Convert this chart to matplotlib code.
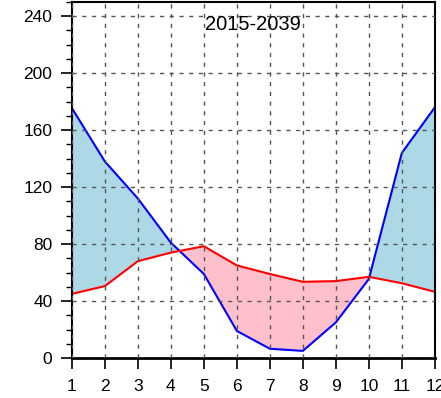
import matplotlib
matplotlib.use('Agg')
import matplotlib.pyplot as plt
from matplotlib.ticker import MultipleLocator
import numpy as np

months = np.arange(1, 13)
blue_vals = [175.5, 138, 112, 81, 59, 19, 6.5, 5, 25, 55.5, 144, 176]
red_vals = [45, 50.5, 68, 74, 78.5, 65, 59, 53.5, 54, 57, 52.5, 46.5]
title_text = '2015-2039'

plt.rcParams['font.family'] = ['Liberation Sans', 'DejaVu Sans']

fig = plt.figure(figsize=(4.41, 3.98), dpi=100)
ax = fig.add_axes([0.163, 0.1005, 0.823, 0.8945])

b = np.array(blue_vals)
r = np.array(red_vals)
ax.fill_between(months, b, r, where=b >= r, interpolate=True, color='#add8e6', linewidth=0)
ax.fill_between(months, b, r, where=b <= r, interpolate=True, color='#ffc0cb', linewidth=0)
ax.plot(months, b, color='blue', linewidth=1.5)
ax.plot(months, r, color='red', linewidth=1.5)

ax.set_xlim(1, 12)
ax.set_ylim(0, 250)
ax.set_xticks(months)
ax.set_yticks(np.arange(0, 241, 40))
ax.yaxis.set_minor_locator(MultipleLocator(10))
ax.tick_params(axis='both', which='major', direction='out', length=8, width=1.2, labelsize=12.5, pad=6)
ax.tick_params(axis='y', which='minor', direction='out', length=4, width=1)
ax.tick_params(axis='x', pad=7)
ax.grid(True, which='major', color='#555555', linestyle=(0, (3, 4)), linewidth=1)
for s in ax.spines.values():
    s.set_linewidth(1.5)
ax.spines['bottom'].set_linewidth(2)
ax.set_axisbelow(False)

ax.text(6.5, 234, title_text, ha='center', va='center', fontsize=14.5)

fig.savefig('out.png', dpi=100)
